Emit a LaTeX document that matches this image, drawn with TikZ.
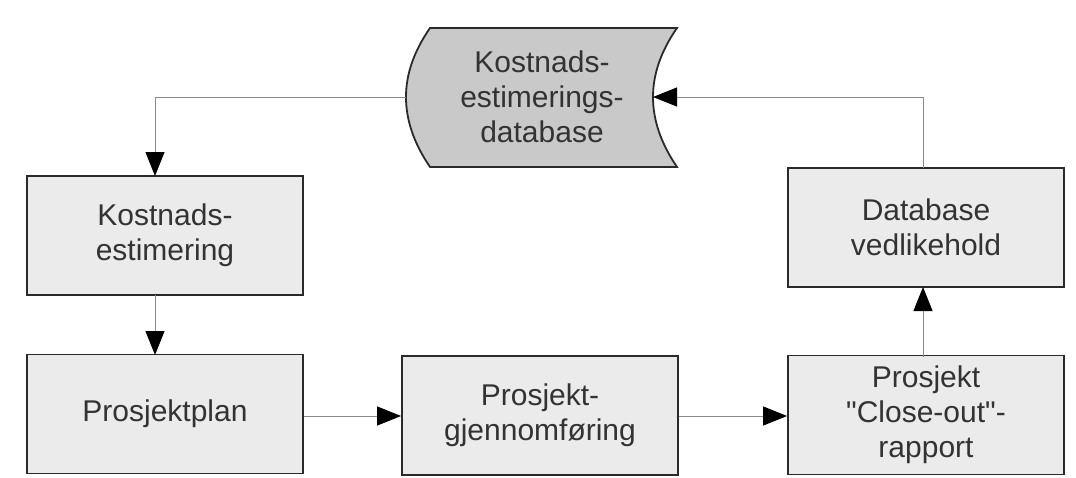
\documentclass[tikz,border=0pt]{standalone}
\usepackage{fontspec}
\setmainfont{Liberation Sans}[Ligatures=TeXOff]
\usetikzlibrary{arrows.meta}
\definecolor{boxfill}{HTML}{EBEBEB}
\definecolor{dbfill}{HTML}{C9C9C9}
\definecolor{txt}{HTML}{333333}
\definecolor{edge}{HTML}{2A2A2A}
\definecolor{conn}{HTML}{8A8A8A}
\tikzset{
  procbox/.style={draw=edge, line width=1.8pt, fill=boxfill, minimum width=276pt, minimum height=119pt, inner sep=0pt},
  lbl/.style={text=txt, align=center, font=\fontsize{30}{35}\selectfont},
  flow/.style={draw=conn, line width=1pt, -{Triangle[length=24pt,width=19pt,fill=black,color=black]}},
}
\begin{document}
\begin{tikzpicture}[x=1pt,y=-1pt]
\useasboundingbox (0,0) rectangle (1076,477);
% database shape
\path[draw=edge, line width=1.8pt, fill=dbfill]
  (430,28) -- (677,28) .. controls (645,74) and (645,120) .. (677,167)
  -- (430,167) .. controls (398,120) and (398,74) .. (430,28) -- cycle;
\node[lbl] (db) at (542,97) {Kostnads-\\estimerings-\\database};
\coordinate (dbL) at (406,97);
\coordinate (dbR) at (653,97);
% boxes
\node[procbox] (ke) at (165,235.5) {};
\node[lbl] at (ke) {Kostnads-\\estimering};
\node[procbox] (pp) at (165,414) {};
\node[lbl] at (pp) {Prosjektplan};
\node[procbox] (pg) at (540,415.5) {};
\node[lbl] at (pg) {Prosjekt-\\gjennomføring};
\node[procbox] (co) at (926,415) {};
\node[lbl] at (co) {Prosjekt\\"Close-out"-\\rapport};
\node[procbox] (dv) at (926,227.5) {};
\node[lbl] at (dv) {Database\\vedlikehold};
% connectors
\draw[flow] (dbL) -- (155,97) -- (155,176);
\draw[flow] (155,295) -- (155,355);
\draw[flow] (pp.east |- 0,416) -- (pg.west |- 0,416);
\draw[flow] (pg.east |- 0,416) -- (co.west |- 0,416);
\draw[flow] (923,357) -- (923,287);
\draw[flow] (923,168) -- (923,97) -- (dbR);
\end{tikzpicture}
\end{document}
